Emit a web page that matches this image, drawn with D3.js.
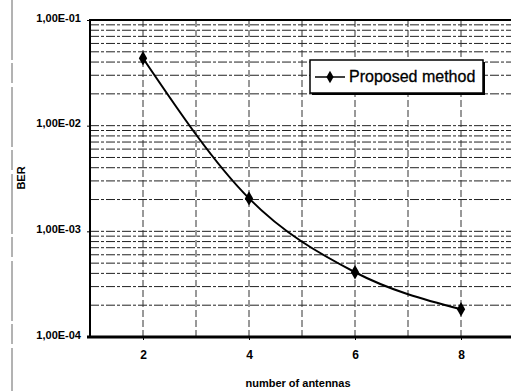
<!DOCTYPE html>
<html>
<head>
<meta charset="utf-8">
<script src="https://cdn.jsdelivr.net/npm/d3@7"></script>
<style>
  body { margin: 0; background: #fff; }
  svg { display: block; }
</style>
</head>
<body>
<div id="chart"></div>
<script>
// data
const antennas = [2, 4, 6, 8];
const ber = [4.35e-2, 2.05e-3, 4.1e-4, 1.83e-4];
const seriesName = "Proposed method";
const xTicks = [2, 4, 6, 8];
const yTicks = [1e-1, 1e-2, 1e-3, 1e-4];
const yTickLabels = ["1,00E-01", "1,00E-02", "1,00E-03", "1,00E-04"];

const width = 511;
const height = 391;
const plot = {left: 90, right: 514, top: 20, bottom: 337};
const font = "'Liberation Sans Narrow', 'Liberation Sans', Arial, sans-serif";

const svg = d3.select("#chart")
    .append("svg")
    .attr("width", width)
    .attr("height", height);

const xScale = d3.scaleLinear()
    .domain([1, 9])
    .range([plot.left, plot.right]);

const yScale = d3.scaleLog()
    .domain([1e-4, 1e-1])
    .range([plot.bottom, plot.top]);

// scan margin line on the far left
svg.append("line")
    .attr("x1", 12).attr("x2", 12)
    .attr("y1", 0).attr("y2", height)
    .attr("stroke", "#666")
    .attr("stroke-width", 1)
    .attr("stroke-dasharray", "60,3,20,4");

// horizontal grid, every 1..9 per decade
const hGrid = [];
for (let e = -4; e <= -2; e++) {
    for (let k = 1; k <= 9; k++) hGrid.push(k * Math.pow(10, e));
}
hGrid.push(1e-1);

svg.append("g")
    .selectAll("line")
    .data(hGrid)
    .join("line")
    .attr("x1", plot.left)
    .attr("x2", width)
    .attr("y1", d => yScale(d))
    .attr("y2", d => yScale(d))
    .attr("stroke", "#222")
    .attr("stroke-width", 1)
    .attr("stroke-dasharray", "9,2,3,2");

// vertical grid at every integer
svg.append("g")
    .selectAll("line")
    .data(d3.range(2, 9))
    .join("line")
    .attr("x1", d => xScale(d))
    .attr("x2", d => xScale(d))
    .attr("y1", plot.top)
    .attr("y2", plot.bottom)
    .attr("stroke", "#333")
    .attr("stroke-width", 1)
    .attr("stroke-dasharray", "7,3");

// frame: top, left, bottom
svg.append("line")
    .attr("x1", plot.left).attr("x2", width)
    .attr("y1", plot.top).attr("y2", plot.top)
    .attr("stroke", "#000").attr("stroke-width", 2);

svg.append("line")
    .attr("x1", plot.left).attr("x2", plot.left)
    .attr("y1", plot.top - 1).attr("y2", plot.bottom)
    .attr("stroke", "#000").attr("stroke-width", 2);

svg.append("line")
    .attr("x1", plot.left - 3).attr("x2", width)
    .attr("y1", plot.bottom).attr("y2", plot.bottom)
    .attr("stroke", "#000").attr("stroke-width", 3);

// y axis
const yAxis = svg.append("g")
    .attr("transform", `translate(${plot.left},0)`)
    .call(d3.axisLeft(yScale)
        .tickValues(yTicks)
        .tickSize(3)
        .tickPadding(6)
        .tickFormat((d, i) => yTickLabels[i]));
yAxis.select(".domain").remove();
yAxis.selectAll("text")
    .attr("dy", "0.1em")
    .style("font-family", font)
    .style("font-size", "11px")
    .style("font-weight", "bold")
    .attr("fill", "#000");

// x axis
const xAxis = svg.append("g")
    .attr("transform", `translate(0,${plot.bottom})`)
    .call(d3.axisBottom(xScale)
        .tickValues(xTicks)
        .tickSize(3)
        .tickPadding(10)
        .tickFormat(d3.format("d")));
xAxis.select(".domain").remove();
xAxis.selectAll("text")
    .style("font-family", font)
    .style("font-size", "12px")
    .style("font-weight", "bold")
    .attr("fill", "#000");

// axis titles
svg.append("text")
    .attr("x", 298)
    .attr("y", 387)
    .attr("text-anchor", "middle")
    .style("font-family", font)
    .style("font-size", "11px")
    .style("font-weight", "bold")
    .text("number of antennas");

svg.append("text")
    .attr("transform", "translate(25,178) rotate(-90)")
    .attr("text-anchor", "middle")
    .style("font-family", font)
    .style("font-size", "11px")
    .style("font-weight", "bold")
    .text("BER");

// series
const points = antennas.map((a, i) => ({x: a, y: ber[i]}));

svg.append("path")
    .datum(points)
    .attr("fill", "none")
    .attr("stroke", "#000")
    .attr("stroke-width", 2)
    .attr("d", d3.line()
        .x(d => xScale(d.x))
        .y(d => yScale(d.y))
        .curve(d3.curveMonotoneX));

const diamond = d3.symbol().type(d3.symbolDiamond).size(60);

svg.append("g")
    .selectAll("path")
    .data(points)
    .join("path")
    .attr("transform", d => `translate(${xScale(d.x)},${yScale(d.y)})`)
    .attr("d", diamond)
    .attr("fill", "#000");

// legend
const legend = svg.append("g");

legend.append("rect")
    .attr("x", 312).attr("y", 62)
    .attr("width", 173).attr("height", 33)
    .attr("fill", "#000");

legend.append("rect")
    .attr("x", 310).attr("y", 60)
    .attr("width", 173).attr("height", 33)
    .attr("fill", "#fff")
    .attr("stroke", "#000")
    .attr("stroke-width", 1.5);

legend.append("line")
    .attr("x1", 315).attr("x2", 345)
    .attr("y1", 77).attr("y2", 77)
    .attr("stroke", "#000")
    .attr("stroke-width", 1.5);

legend.append("path")
    .attr("transform", "translate(330,77)")
    .attr("d", d3.symbol().type(d3.symbolDiamond).size(45))
    .attr("fill", "#000");

legend.append("text")
    .attr("x", 349)
    .attr("y", 82)
    .style("font-family", "'Liberation Sans', Arial, sans-serif")
    .style("font-size", "16px")
    .style("stroke", "#000")
    .style("stroke-width", 0.3)
    .text(seriesName);
</script>
</body>
</html>
